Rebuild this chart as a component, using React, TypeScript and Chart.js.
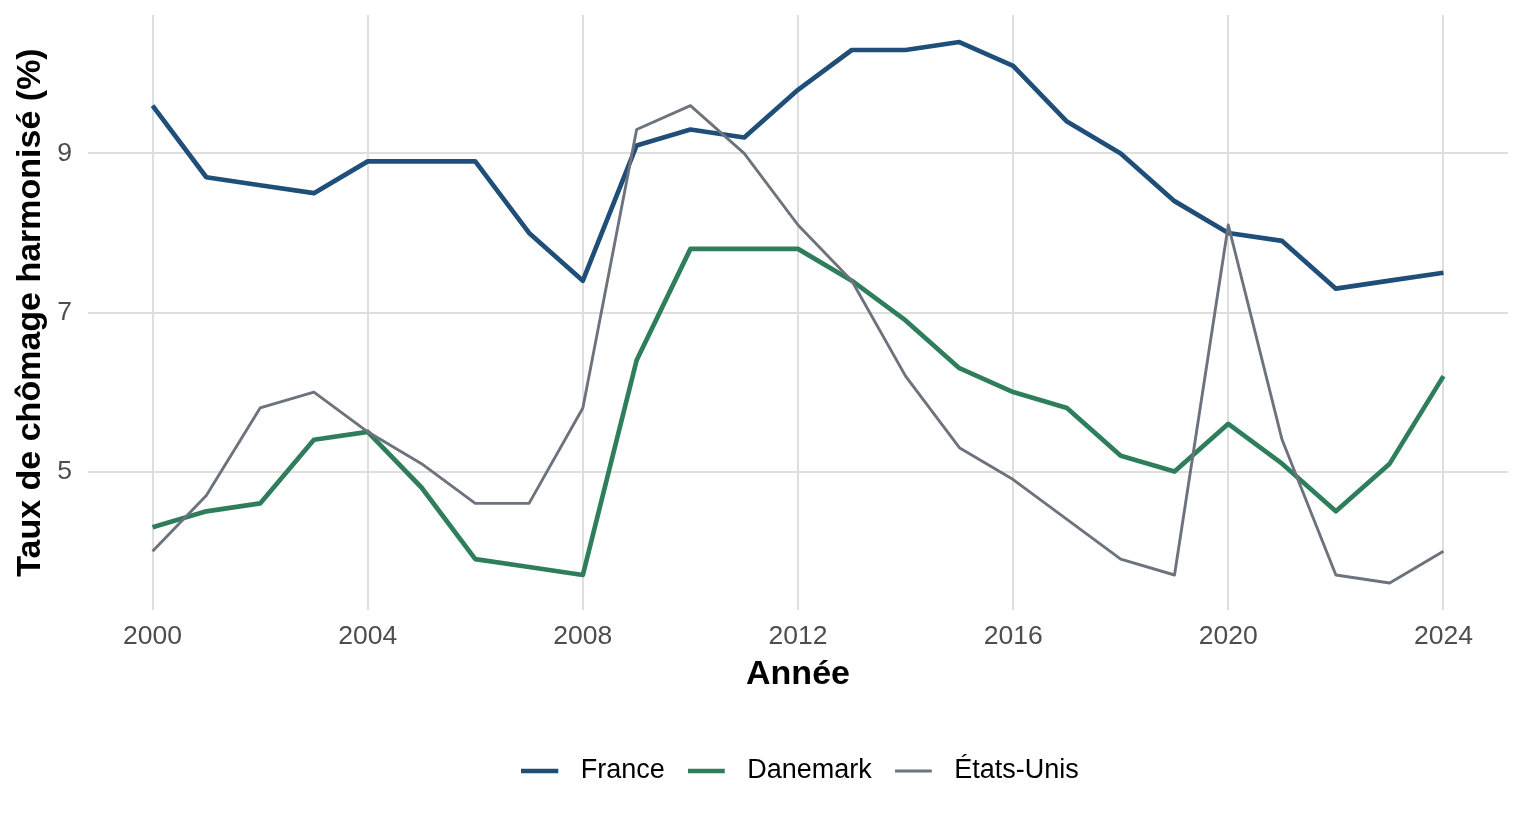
import { useEffect, useRef } from "react";
import { Chart, registerables } from "chart.js";

Chart.register(...registerables);

const annees = [
  2000, 2001, 2002, 2003, 2004, 2005, 2006, 2007, 2008, 2009, 2010, 2011, 2012,
  2013, 2014, 2015, 2016, 2017, 2018, 2019, 2020, 2021, 2022, 2023, 2024,
];
const france = [
  9.6, 8.7, 8.6, 8.5, 8.9, 8.9, 8.9, 8.0, 7.4, 9.1, 9.3, 9.2, 9.8, 10.3, 10.3,
  10.4, 10.1, 9.4, 9.0, 8.4, 8.0, 7.9, 7.3, 7.4, 7.5,
];
const danemark = [
  4.3, 4.5, 4.6, 5.4, 5.5, 4.8, 3.9, 3.8, 3.7, 6.4, 7.8, 7.8, 7.8, 7.4, 6.9,
  6.3, 6.0, 5.8, 5.2, 5.0, 5.6, 5.1, 4.5, 5.1, 6.2,
];
const etatsUnis = [
  4.0, 4.7, 5.8, 6.0, 5.5, 5.1, 4.6, 4.6, 5.8, 9.3, 9.6, 9.0, 8.1, 7.4, 6.2,
  5.3, 4.9, 4.4, 3.9, 3.7, 8.1, 5.4, 3.7, 3.6, 4.0,
];
const xTicks = [2000, 2004, 2008, 2012, 2016, 2020, 2024];
const yTicks = [5, 7, 9];

const FONT = "'Liberation Sans', Arial, Helvetica, sans-serif";
const GRID = "#dedede";

// 5 % de marge de chaque côté, comme ggplot
function expand(values: number[]) {
  const lo = Math.min(...values);
  const hi = Math.max(...values);
  const pad = (hi - lo) * 0.05;
  return [lo - pad, hi + pad];
}

// petit trait de légende (trait à gauche, espace à droite)
function legendLine(color: string, width: number) {
  const c = document.createElement("canvas");
  c.width = 46;
  c.height = 10;
  const ctx = c.getContext("2d")!;
  ctx.strokeStyle = color;
  ctx.lineWidth = width;
  ctx.beginPath();
  ctx.moveTo(0, 5);
  ctx.lineTo(37, 5);
  ctx.stroke();
  return c;
}

// la légende ggplot est centrée sur le panneau, pas sur la figure
const centreLegend = {
  id: "centreLegend",
  afterLayout(chart: any) {
    const lg = chart.legend;
    if (!lg) return;
    const shift =
      (chart.chartArea.left + chart.chartArea.right) / 2 - (lg.left + lg.right) / 2 + 2;
    lg.left += shift;
    lg.right += shift;
  },
};

const points = (ys: number[]) => annees.map((a, i) => ({ x: a, y: ys[i] }));

export default function App() {
  const chartRef = useRef<HTMLCanvasElement>(null);

  useEffect(() => {
    if (!chartRef.current) return;

    const [xMin, xMax] = expand(annees);
    const [yMin, yMax] = expand([...france, ...danemark, ...etatsUnis]);

    const chart = new Chart(chartRef.current, {
      type: "line",
      data: {
        datasets: [
          {
            label: "France",
            data: points(france),
            borderColor: "#1f4e79",
            borderWidth: 4.7,
            order: 3,
          },
          {
            label: "Danemark",
            data: points(danemark),
            borderColor: "#2e7d5b",
            borderWidth: 4.7,
            order: 2,
          },
          {
            label: "États-Unis",
            data: points(etatsUnis),
            borderColor: "#6c737d",
            borderWidth: 2.9,
            order: 1,
          },
        ],
      },
      options: {
        animation: false,
        responsive: true,
        maintainAspectRatio: false,
        elements: {
          point: { radius: 0, hoverRadius: 0 },
          line: { tension: 0, borderJoinStyle: "round", borderCapStyle: "butt" },
        },
        layout: { padding: { left: 0, right: 28, top: 15, bottom: 30.5 } },
        scales: {
          x: {
            type: "linear",
            min: xMin,
            max: xMax,
            afterBuildTicks: (s: any) => {
              s.ticks = xTicks.map((v) => ({ value: v }));
            },
            afterFit: (s: any) => {
              s.height = 124.5;
              s.paddingLeft = 0;
              s.paddingRight = 0;
            },
            grid: { color: GRID, lineWidth: 2, drawTicks: false },
            border: { display: false },
            ticks: {
              color: "#4d4d4d",
              font: { family: FONT, size: 26.5 },
              padding: 11,
              maxRotation: 0,
              autoSkip: false,
              callback: (v: any) => String(v),
            },
            title: {
              display: true,
              text: "Année",
              color: "#000",
              font: { family: FONT, size: 34, weight: "bold" },
              padding: { top: 0, bottom: 39 },
            },
          },
          y: {
            min: yMin,
            max: yMax,
            afterBuildTicks: (s: any) => {
              s.ticks = yTicks.map((v) => ({ value: v }));
            },
            afterFit: (s: any) => {
              s.width = 88;
              s.paddingTop = 0;
              s.paddingBottom = 0;
            },
            grid: { color: GRID, lineWidth: 2, drawTicks: false },
            border: { display: false },
            ticks: {
              color: "#4d4d4d",
              font: { family: FONT, size: 26.5 },
              padding: 16,
              callback: (v: any) => String(v),
            },
            title: {
              display: true,
              text: "Taux de chômage harmonisé (%)",
              color: "#000",
              font: { family: FONT, size: 34, weight: "bold" },
              padding: { top: 10, bottom: 0 },
            },
          },
        },
        plugins: {
          tooltip: { enabled: false },
          legend: {
            position: "bottom",
            labels: {
              usePointStyle: true,
              pointStyleWidth: 46,
              padding: 23,
              color: "#000",
              font: { family: FONT, size: 27 },
              generateLabels: (c: any) =>
                c.data.datasets.map((ds: any, i: number) => ({
                  text: ds.label,
                  pointStyle: legendLine(ds.borderColor, ds.borderWidth),
                  fillStyle: ds.borderColor,
                  strokeStyle: ds.borderColor,
                  lineWidth: 0,
                  hidden: false,
                  datasetIndex: i,
                  fontColor: "#000",
                })),
            },
          },
        },
      },
      plugins: [centreLegend],
    });

    return () => {
      chart.destroy();
    };
  }, []);

  return (
    <div
      style={{
        position: "fixed",
        left: 0,
        top: 0,
        width: "100vw",
        height: "100vh",
        background: "#fff",
      }}
    >
      <canvas ref={chartRef}></canvas>
    </div>
  );
}
